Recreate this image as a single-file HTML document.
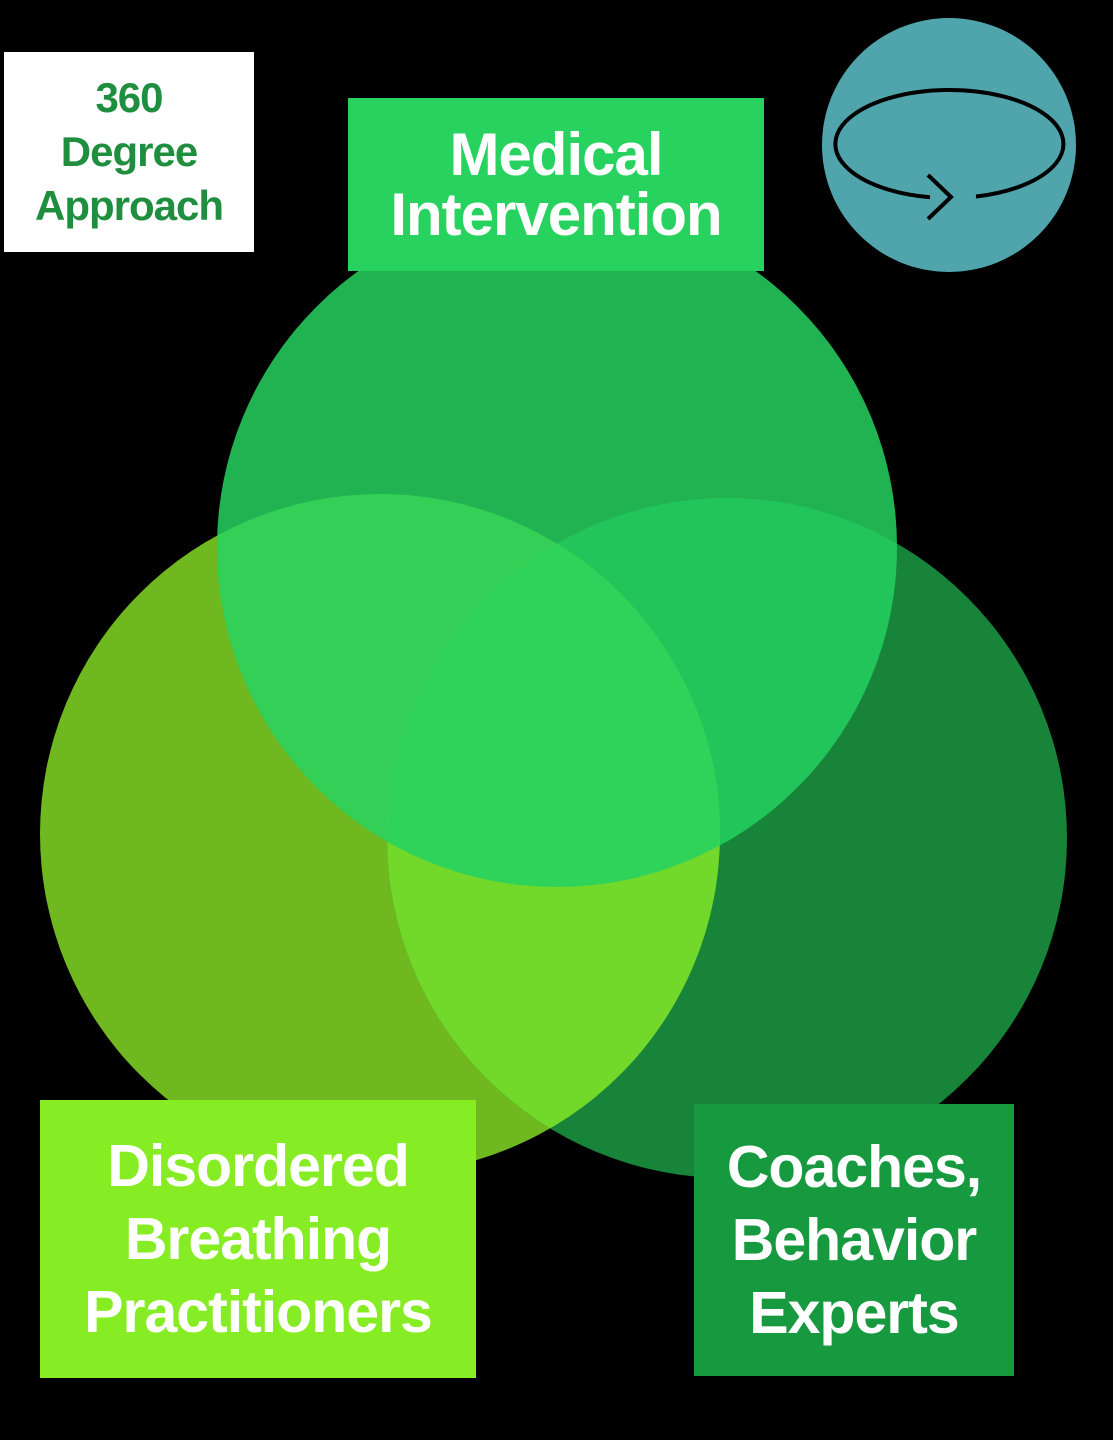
<!DOCTYPE html>
<html><head><style>
html,body{margin:0;padding:0;background:#000;}
body{width:1113px;height:1440px;position:relative;overflow:hidden;font-family:"Liberation Sans",sans-serif;font-weight:bold;}
.box{position:absolute;display:flex;align-items:center;justify-content:center;text-align:center;}
</style></head><body>
<svg width="1113" height="1440" style="position:absolute;left:0;top:0">
<defs>
<clipPath id="cT"><circle cx="557" cy="547" r="340"/></clipPath>
<clipPath id="cR"><circle cx="727" cy="838" r="340"/></clipPath>
</defs>
<circle cx="380" cy="834" r="340" fill="#6fb81f"/>
<circle cx="727" cy="838" r="340" fill="#17843a"/>
<circle cx="557" cy="547" r="340" fill="#21b352"/>
<circle cx="380" cy="834" r="340" fill="#33cf56" clip-path="url(#cT)"/>
<circle cx="557" cy="547" r="340" fill="#22c55a" clip-path="url(#cR)"/>
<circle cx="380" cy="834" r="340" fill="#72d82a" clip-path="url(#cR)"/>
<g clip-path="url(#cT)"><circle cx="380" cy="834" r="340" fill="#30d35a" clip-path="url(#cR)"/></g>
<circle cx="949" cy="145" r="127" fill="#50a5ac"/>
<path d="M 930 197.2 A 114 54 0 1 1 976 196.5" fill="none" stroke="#000" stroke-width="4"/>
<path d="M 928 175 L 951 197 L 928 219" fill="none" stroke="#000" stroke-width="4"/>
</svg>
<div class="box" style="left:4px;top:52px;width:250px;height:200px;background:#fff;color:#1f8f3f;font-size:42px;line-height:54px;letter-spacing:-1px;">360<br>Degree<br>Approach</div>
<div class="box" style="left:348px;top:98px;width:416px;height:173px;background:#27d35e;color:#fff;font-size:60px;line-height:60px;letter-spacing:-1px;">Medical<br>Intervention</div>
<div class="box" style="left:40px;top:1100px;width:436px;height:278px;background:#86ec23;color:#fff;font-size:59px;line-height:73px;letter-spacing:-1px;">Disordered<br>Breathing<br>Practitioners</div>
<div class="box" style="left:694px;top:1104px;width:320px;height:272px;background:#179a3f;color:#fff;font-size:59px;line-height:73px;letter-spacing:-1px;">Coaches,<br>Behavior<br>Experts</div>
</body></html>
